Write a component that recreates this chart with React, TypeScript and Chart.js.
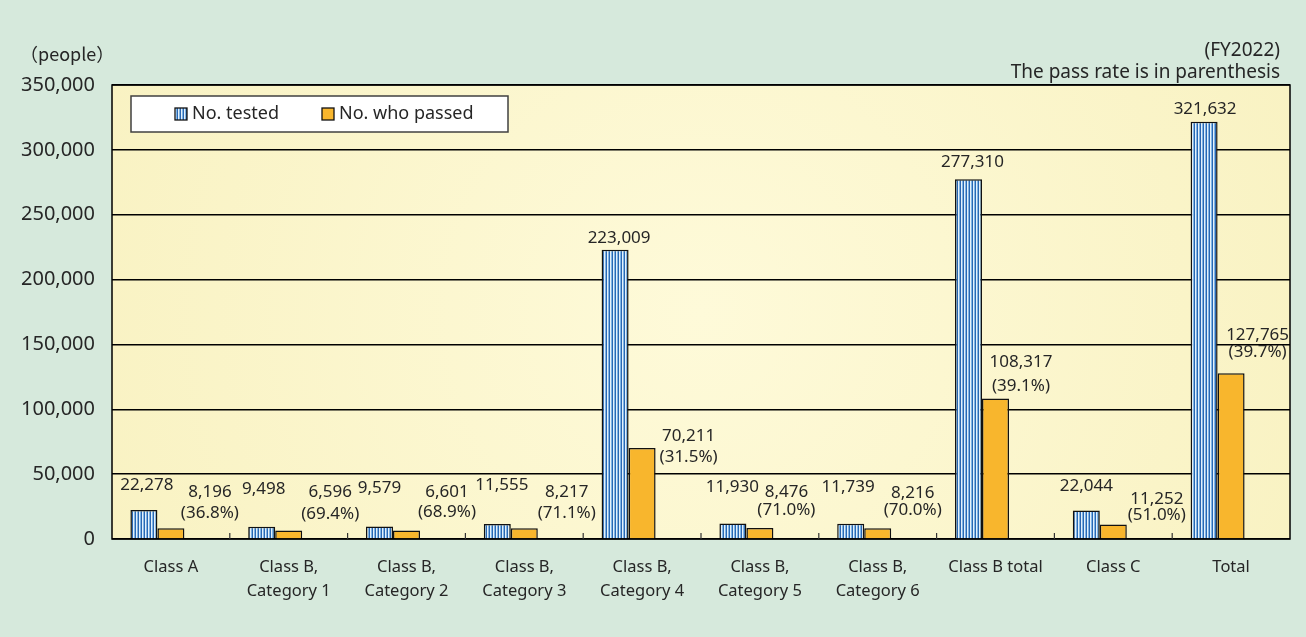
import React, { useEffect, useRef } from "react";
import { Chart, registerables } from "chart.js";

Chart.register(...registerables);

// ---------- data ----------
const categories: string[][] = [
  ["Class A"],
  ["Class B,", "Category 1"],
  ["Class B,", "Category 2"],
  ["Class B,", "Category 3"],
  ["Class B,", "Category 4"],
  ["Class B,", "Category 5"],
  ["Class B,", "Category 6"],
  ["Class B total"],
  ["Class C"],
  ["Total"],
];
const tested = [22278, 9498, 9579, 11555, 223009, 11930, 11739, 277310, 22044, 321632];
const passed = [8196, 6596, 6601, 8217, 70211, 8476, 8216, 108317, 11252, 127765];
const passRates = ["36.8%", "69.4%", "68.9%", "71.1%", "31.5%", "71.0%", "70.0%", "39.1%", "51.0%", "39.7%"];
const seriesNames = ["No. tested", "No. who passed"];
const yMin = 0;
const yMax = 350000;
const yStep = 50000;

// label nudges (pixels, relative to bar tops) – style only
const testedLabelDx = [3, 2, 0, 4.5, 4, -0.5, -2.5, 4, 0, 1];
const testedLabelDy = [-25, -38, -38, -39, -12, -36.5, -37, -17, -24.4, -13];
const passedLabelDx = [25.5, 28, 27, 29, 33, 13, 21.5, 12, 30, 13];
const passedLabelDy1 = [-36, -38, -38.6, -36, -12, -35.5, -35.5, -36, -25.4, -38];
const passedLabelDy2 = [-15, -16, -18.6, -15, 9, -18, -18, -12.5, -9.4, -21];

const FONT = "'Noto Sans', 'Open Sans', sans-serif";
const TEXT = "#262626";
const PAGE_BG = "#d6e9dc";
const ORANGE = "#f8b62d";

function makeStripePattern(): CanvasPattern | string {
  const c = document.createElement("canvas");
  c.width = 3;
  c.height = 4;
  const g = c.getContext("2d");
  if (!g) return "#5b9bd5";
  const cols = ["#2a67b1", "#e4f0fa", "#7fb5e6"];
  cols.forEach((col, i) => {
    g.fillStyle = col;
    g.fillRect(i, 0, 1, 4);
  });
  const p = g.createPattern(c, "repeat");
  return p || "#5b9bd5";
}

const fmt = (v: number) => v.toLocaleString("en-US");

export default function App() {
  const ref = useRef<HTMLCanvasElement | null>(null);

  useEffect(() => {
    if (!ref.current) return;
    const stripe = makeStripePattern();

    const decor = {
      id: "decor",
      beforeDraw(chart: any) {
        const { ctx, chartArea: a, width, height } = chart;
        ctx.save();
        ctx.fillStyle = PAGE_BG;
        ctx.fillRect(0, 0, width, height);
        const cx = (a.left + a.right) / 2;
        const cy = (a.top + a.bottom) / 2;
        const grad = ctx.createRadialGradient(cx, cy, 0, cx, cy, (a.right - a.left) / 1.6);
        grad.addColorStop(0, "#fefad9");
        grad.addColorStop(1, "#f8f1bf");
        ctx.fillStyle = grad;
        ctx.fillRect(a.left, a.top, a.right - a.left, a.bottom - a.top);

        // header texts
        ctx.fillStyle = TEXT;
        ctx.textBaseline = "middle";
        ctx.textAlign = "left";
        ctx.font = "18px 'Noto Sans CJK JP', 'Noto Sans', sans-serif";
        ctx.fillText("（people）", 20, 54);
        ctx.textAlign = "right";
        ctx.font = `19px ${FONT}`;
        ctx.fillText("(FY2022)", 1280, 51);
        ctx.fillText("The pass rate is in parenthesis", 1280, 73);
        ctx.restore();
      },
      beforeDatasetsDraw(chart: any) {
        const { ctx, chartArea: a, scales } = chart;
        ctx.save();
        ctx.strokeStyle = "#000";
        ctx.lineWidth = 1.5;
        ctx.strokeRect(a.left, a.top, a.right - a.left, a.bottom - a.top);
        // category boundary tick marks
        const x = scales.x;
        ctx.lineWidth = 1.2;
        ctx.strokeStyle = "#333";
        for (let i = 1; i < categories.length; i++) {
          const px = (x.getPixelForValue(i - 1) + x.getPixelForValue(i)) / 2;
          ctx.beginPath();
          ctx.moveTo(px, a.bottom);
          ctx.lineTo(px, a.bottom - 6);
          ctx.stroke();
        }
        ctx.restore();
      },
      afterDatasetsDraw(chart: any) {
        const { ctx, chartArea: a } = chart;
        const m0 = chart.getDatasetMeta(0).data;
        const m1 = chart.getDatasetMeta(1).data;
        ctx.save();
        ctx.fillStyle = TEXT;
        ctx.font = `17px ${FONT}`;
        ctx.textBaseline = "middle";
        ctx.textAlign = "center";
        for (let i = 0; i < categories.length; i++) {
          const b0 = m0[i];
          ctx.fillText(fmt(tested[i]), b0.x + testedLabelDx[i], b0.y + testedLabelDy[i]);
          const b1 = m1[i];
          const right = b1.x + b1.width / 2;
          ctx.fillText(fmt(passed[i]), right + passedLabelDx[i], b1.y + passedLabelDy1[i]);
          ctx.fillText(`(${passRates[i]})`, right + passedLabelDx[i], b1.y + passedLabelDy2[i]);
        }

        // legend box
        const lx = a.left + 19;
        const ly = a.top + 11;
        ctx.fillStyle = "#fff";
        ctx.fillRect(lx, ly, 377, 36);
        ctx.strokeStyle = "#404040";
        ctx.lineWidth = 1.5;
        ctx.strokeRect(lx, ly, 377, 36);
        const sy = ly + 12;
        ctx.fillStyle = stripe as any;
        ctx.fillRect(lx + 44, sy, 12, 12);
        ctx.strokeStyle = "#111";
        ctx.lineWidth = 1.3;
        ctx.strokeRect(lx + 44, sy, 12, 12);
        ctx.fillStyle = ORANGE;
        ctx.fillRect(lx + 191, sy, 12, 12);
        ctx.strokeRect(lx + 191, sy, 12, 12);
        ctx.fillStyle = TEXT;
        ctx.font = `18px ${FONT}`;
        ctx.textAlign = "left";
        ctx.fillText(seriesNames[0], lx + 61, sy + 6);
        ctx.fillText(seriesNames[1], lx + 208, sy + 6);
        ctx.restore();
      },
    };

    const chart = new Chart(ref.current, {
      type: "bar",
      data: {
        labels: categories,
        datasets: [
          {
            label: seriesNames[0],
            data: tested,
            backgroundColor: stripe as any,
            borderColor: "#111",
            borderWidth: 1.5,
          },
          {
            label: seriesNames[1],
            data: passed,
            backgroundColor: ORANGE,
            borderColor: "#111",
            borderWidth: 1.5,
          },
          {
            label: "",
            data: categories.map(() => null),
            backgroundColor: "rgba(0,0,0,0)",
          },
        ],
      },
      options: {
        responsive: false,
        animation: false,
        events: [],
        layout: { padding: { top: 85, right: 16, left: 0, bottom: 0 } },
        datasets: {
          bar: { categoryPercentage: 0.6876, barPercentage: 1 },
        },
        plugins: {
          legend: { display: false },
          tooltip: { enabled: false },
          title: { display: false },
        },
        scales: {
          x: {
            grid: { display: false, drawTicks: false },
            border: { display: false },
            ticks: {
              font: { family: FONT, size: 16.5, lineHeight: 1.42 },
              color: TEXT,
              padding: 17,
              maxRotation: 0,
              autoSkip: false,
            },
            afterFit(scale: any) {
              scale.height = 98;
            },
          },
          y: {
            min: yMin,
            max: yMax,
            grid: { color: "#000", lineWidth: 1.5, drawTicks: false },
            border: { display: false },
            ticks: {
              stepSize: yStep,
              font: { family: FONT, size: 20 },
              color: TEXT,
              padding: 17,
              callback: (v: any) => fmt(Number(v)),
            },
            afterFit(scale: any) {
              scale.width = 112;
            },
          },
        },
      },
      plugins: [decor],
    });
    return () => chart.destroy();
  }, []);

  return (
    <div style={{ position: "fixed", left: 0, top: 0, width: 1306, height: 637, background: PAGE_BG }}>
      <canvas ref={ref} width={1306} height={637} style={{ display: "block" }} />
    </div>
  );
}
